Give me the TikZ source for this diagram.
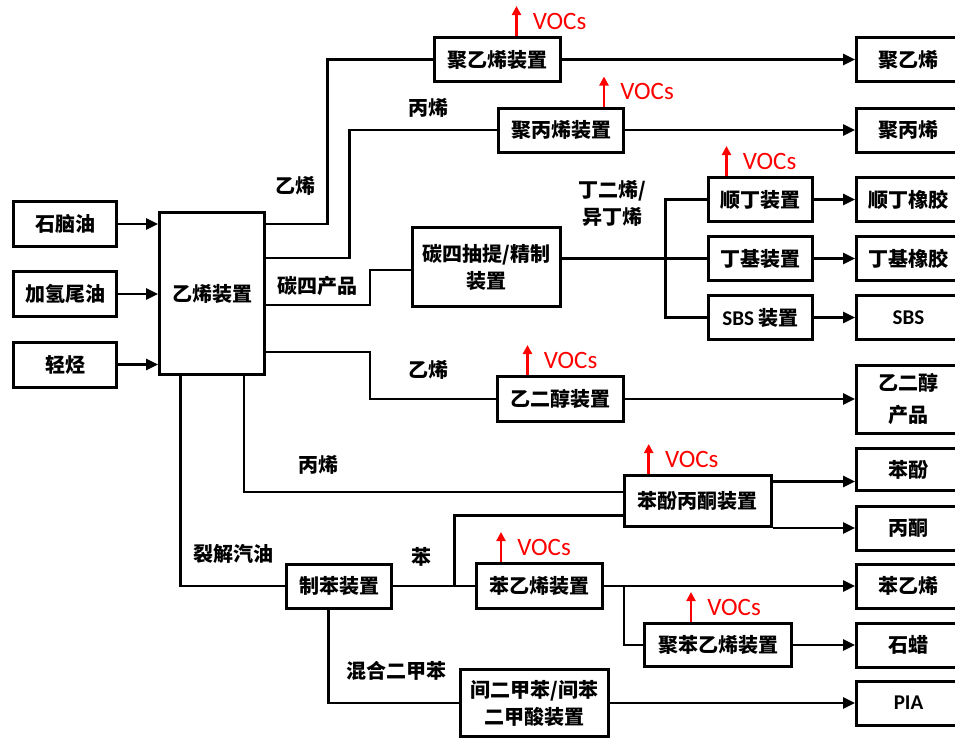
\documentclass[tikz,border=0pt]{standalone}
\usepackage{fontspec}
\setmainfont{Noto Sans CJK SC}
\newfontfamily\vocfont{Carlito}
\usetikzlibrary{arrows.meta, positioning}
\def\VocColor{red}
\def\WireWidth{2.6pt}
\newcommand\unitfont{\bfseries\fontsize{20}{27}\selectfont}
\newcommand\latin[1]{{\vocfont\bfseries\fontsize{21}{24}\selectfont #1}}

\begin{document}
\begin{tikzpicture} [x=1pt, y=-1pt,
     N/.style = {draw, line width=3pt, fill=white, minimum width=105pt, minimum height=44pt,
                 inner xsep=10pt, align=center, font=\unitfont},
     P/.style = {N, anchor=west, minimum width=104pt},
     L/.style = {font=\unitfont, align=center},
  wire/.style = {draw, line width=\WireWidth},
   voc/.style = {draw=\VocColor, line width=2.6pt, -{Triangle[length=9pt,width=9pt]}},
  vtxt/.style = {text=\VocColor, inner sep=1pt, font=\vocfont\fontsize{25}{28}\selectfont},
    every edge/.style={draw, line width=\WireWidth, -{Triangle[length=12pt,width=11pt]}}
]
  \path[use as bounding box, fill=white] (0,0) rectangle (955,737);

  % Nodes and Positions
  % FEEDS (LEFT)
  \node[N, minimum width=103pt, minimum height=45pt] (naph)  at (65,224)   {石脑油};
  \node[N, minimum width=103pt, minimum height=45pt] (hydro) at (65,294)   {加氢尾油};
  \node[N, minimum width=103pt, minimum height=45pt] (light) at (65,364.5) {轻烃};

  % CRACKER
  \node[N, minimum height=162pt] (eth) at (212,293.5) {乙烯装置};

  % UNITS
  \node[N, minimum width=126pt] (pe)   at (497.2,59.5) {聚乙烯装置};
  \node[N, minimum width=125pt] (pp)   at (561,130)    {聚丙烯装置};
  \node[N, minimum width=146pt, minimum height=79pt] (c4) at (486.4,267) {碳四抽提/精制\\装置};
  \node[N, minimum width=104pt] (br)   at (760.5,199.5) {顺丁装置};
  \node[N, minimum width=104pt] (iir)  at (760.5,258.5) {丁基装置};
  \node[N, minimum width=104pt] (sbs)  at (760.5,317.5) {\latin{SBS} 装置};
  \node[N, minimum width=126pt, minimum height=45pt] (eg) at (560.5,399) {乙二醇装置};
  \node[N, minimum width=147pt, minimum height=51pt] (phen) at (697.7,501) {苯酚丙酮装置};
  \node[N] (benz) at (339,586) {制苯装置};
  \node[N, minimum width=126pt, minimum height=45pt] (sty) at (539.5,586) {苯乙烯装置};
  \node[N, minimum width=147pt, minimum height=43pt] (ps)  at (718,645)   {聚苯乙烯装置};
  \node[N, minimum width=148pt, minimum height=67pt] (ipa) at (534.5,703) {间二甲苯/间苯\\二甲酸装置};

  % PRODUCTS (RIGHT)
  \node[P] (pep)      at (855,59.5)  {聚乙烯};
  \node[P] (ppp)      at (855,130)   {聚丙烯};
  \node[P] (brp)      at (855,199.5) {顺丁橡胶};
  \node[P] (iirp)     at (855,258.5) {丁基橡胶};
  \node[P] (sbsp)     at (855,317.5) {\latin{SBS}};
  \node[P, minimum height=68pt] (egp) at (855,399) {乙二醇\\[5pt]产品};
  \node[P, minimum height=42pt] (phenolp)  at (855,469.5) {苯酚};
  \node[P, minimum height=44pt] (acetonep) at (855,528.5) {丙酮};
  \node[P] (styp)     at (855,586)   {苯乙烯};
  \node[P] (waxp)     at (855,645)   {石蜡};
  \node[P] (piap)     at (855,703)   {\latin{PIA}};

  % Stream labels
  \node[L] (lbeth)  at (295.5,186) {乙烯};
  \node[L] (lbpro)  at (428.5,108) {丙烯};
  \node[L] (lbc4)   at (317,286)   {碳四产品};
  \node[L] (lbeth2) at (428.5,370) {乙烯};
  \node[L] (lbbd)   at (612,203)   {丁二烯/\\异丁烯};
  \node[L] (lbpro2) at (318,465)   {丙烯};
  \node[L] (lbpg)   at (233.5,554) {裂解汽油};
  \node[L] (lbbz)   at (421.5,557) {苯};
  \node[L] (lbxy)   at (396,671)   {混合二甲苯};

  % Edges
  \path (naph)  edge (naph -| eth.west);
  \path (hydro) edge (hydro -| eth.west);
  \path (light) edge (light -| eth.west);

  \draw[wire] (eth.east |- 0,224) -- ++(61.5,0) |- (pe.west);
  \draw[wire] (eth.east |- 0,258) -- ++(83.5,0) |- (pp.west);
  \draw[wire] (eth.east |- 0,305) -- ++(104,0)  |- ([yshift=-3pt]c4.west);
  \draw[wire] (eth.east |- 0,352) -- ++(104,0)  |- (eg.west);
  \draw[wire] (eth.south -| 244,0)   |- ([yshift=9pt]phen.west);
  \draw[wire] (eth.south -| 180.3,0) |- (benz.west);

  \draw[wire] ([yshift=8.5pt]c4.east) -- (iir.west);
  \draw[wire] (br.west) -| ([xshift=-41.5pt]iir.west) |- (sbs.west);

  \draw[wire] (benz) -- (sty);
  \draw[wire] (benz.east -| 454.5,0) |- ([yshift=-14.5pt]phen.west);
  \draw[wire] (benz.south -| 328.3,0) |- (ipa.west);
  \draw[wire] ([xshift=20pt]sty.east) |- (ps.west);

  \path (pe)  edge (pep);
  \path (pp)  edge (ppp);
  \path (br)  edge (brp);
  \path (iir) edge (iirp);
  \path (sbs) edge (sbsp);
  \path (eg)  edge (egp);
  \path ([yshift=19.5pt]phen.east) coordinate (phout);
  \path (phout) edge (phout -| phenolp.west);
  \path (phen.south east) edge (phen.south east -| acetonep.west);
  \path (sty) edge (styp);
  \path (ps)  edge (waxp);
  \path (ipa) edge (piap);

  % VOCs
  \foreach \u/\dx in {pe/19.3, pp/43, br/-34, eg/-33, phen/-49, sty/-38.5, ps/-27}
    \draw[voc] ([xshift=\dx pt]\u.north) -- ++(0,-30) node[midway, right=14pt, vtxt] {VOCs};

\end{tikzpicture}
\end{document}
